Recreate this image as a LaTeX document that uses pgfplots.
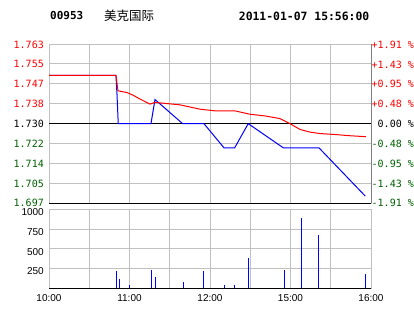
\documentclass[border=0pt]{standalone}
\usepackage{pgfplots}
\pgfplotsset{compat=1.18}
\usepackage{fontspec}
\setmainfont{Liberation Sans}
\newfontfamily\monof{DejaVu Sans Mono}
\newfontfamily\cjk{Noto Sans CJK SC}
\definecolor{gridg}{RGB}{192,192,192}
\definecolor{edgeg}{RGB}{128,128,128}
\definecolor{dgreen}{RGB}{0,96,0}
\definecolor{pblue}{RGB}{0,0,255}
\definecolor{pred}{RGB}{255,0,0}
\begin{document}
\begin{tikzpicture}[x=1pt,y=1pt]
\path[use as bounding box, fill=white] (0,0) rectangle (414,314);
\node[anchor=west, inner sep=0pt] at (50,298) {\monof\bfseries\fontsize{11}{11}\selectfont 00953};
\node[anchor=west, inner sep=0pt] at (104,298) {\cjk\fontsize{12.5}{12.5}\selectfont 美克国际};
\node[anchor=east, inner sep=0pt] at (369.5,298) {\monof\bfseries\fontsize{11.4}{11}\selectfont 2011-01-07 15:56:00};
% price panel
\begin{axis}[at={(49pt,110.7pt)}, anchor=south west, scale only axis,
  width=322pt, height=159.3pt,
  xmin=0, xmax=240, ymin=1.697, ymax=1.763,
  xtick={30,60,...,210}, xticklabels={},
  ytick={1.697,1.70525,1.7135,1.72175,1.730,1.73825,1.7465,1.75475,1.763},
  yticklabels={\raisebox{2.5pt}{\textcolor{dgreen}{1.697}},\raisebox{1pt}{\textcolor{dgreen}{1.705}},\textcolor{dgreen}{1.714},\textcolor{dgreen}{1.722},\textcolor{black}{1.730},\textcolor{pred}{1.738},\textcolor{pred}{1.747},\textcolor{pred}{1.755},\raisebox{-2pt}{\textcolor{pred}{1.763}}},
  grid=major, grid style={gridg, line width=1pt},
  axis line style={gridg, line width=1pt},
  major tick length=0pt,
  yticklabel style={anchor=east, inner sep=0pt, xshift=-5pt, yshift=-0.5pt, font=\monof\fontsize{10}{10}\selectfont},
  clip=false]
\addplot[black, line width=1pt] coordinates {(0,1.730) (240,1.730)};
\addplot[black, line width=1pt] coordinates {(0,1.697) (240,1.697)};
\addplot[pblue, line width=1pt] coordinates {
(0,1.750)(49.9,1.750)(50.7,1.742)(51.6,1.730)(76.0,1.730)(79.0,1.740)(99.6,1.730)(115.5,1.730)(130.4,1.720)(138.4,1.720)(148.5,1.730)(174.6,1.720)(201.2,1.720)(235.7,1.700)};
\addplot[pred, line width=1pt] coordinates {
(0,1.750)(49.9,1.750)(51.4,1.7436)(58.1,1.7429)(62.6,1.7418)(67.8,1.7402)(75.3,1.7381)(79,1.7388)(97.6,1.7378)(105.1,1.7369)(112.5,1.7360)(123.7,1.7353)(138.6,1.7353)(149.8,1.7339)(161,1.7332)(172.2,1.7321)(179.6,1.7300)(187.1,1.7276)(194.5,1.7265)(201.9,1.7259)(213.1,1.7255)(224.2,1.7250)(236.1,1.7246)};
\end{axis}
\begin{axis}[at={(49pt,110.7pt)}, anchor=south west, scale only axis,
  width=322pt, height=159.3pt,
  xmin=0, xmax=240, ymin=1.697, ymax=1.763,
  hide x axis, axis y line*=right, axis line style={edgeg, line width=1pt, -},
  ytick={1.697,1.70525,1.7135,1.72175,1.730,1.73825,1.7465,1.75475,1.763},
  yticklabels={\raisebox{2.5pt}{\textcolor{dgreen}{-1.91 \%}},\raisebox{1pt}{\textcolor{dgreen}{-1.43 \%}},\textcolor{dgreen}{-0.95 \%},\textcolor{dgreen}{-0.48 \%},\textcolor{black}{\ 0.00 \%},\textcolor{pred}{+0.48 \%},\textcolor{pred}{+0.95 \%},\textcolor{pred}{+1.43 \%},\raisebox{-2pt}{\textcolor{pred}{+1.91 \%}}},
  major tick length=0pt,
  yticklabel style={anchor=west, inner sep=0pt, xshift=0.5pt, yshift=-0.5pt, font=\monof\fontsize{10}{10}\selectfont}]
\addplot[draw=none] coordinates {(0,1.730)};
\end{axis}
% volume panel
\begin{axis}[at={(49pt,25.7pt)}, anchor=south west, scale only axis,
  width=322pt, height=79pt,
  xmin=0, xmax=240, ymin=0, ymax=1000,
  xtick={0,30,...,240}, xticklabels={10:00,,11:00,,12:00,,15:00,,16:00},
  ytick={250,500,750,1000}, yticklabels={250,500,750,1000},
  grid=major, grid style={gridg, line width=1pt},
  axis line style={gridg, line width=1pt},
  major tick length=0pt,
  yticklabel style={anchor=east, inner sep=0pt, xshift=-5pt, yshift=-3pt, font=\fontsize{10}{10}\selectfont},
  xticklabel style={anchor=north, inner sep=0pt, yshift=-6pt, font=\fontsize{10}{10}\selectfont},
  clip=false]
\addplot[black, line width=1pt] coordinates {(0,0) (240,0)};
\addplot[ycomb, pblue, line width=1.3pt] coordinates {
(50.31,220)(52.55,118)(60.00,42)(76.40,235)(79.38,143)(100.25,84)(115.16,219)(130.81,42)(138.26,42)(148.70,384)(175.53,235)(188.20,890)(200.87,675)(235.90,181)};
\end{axis}
\end{tikzpicture}
\end{document}
